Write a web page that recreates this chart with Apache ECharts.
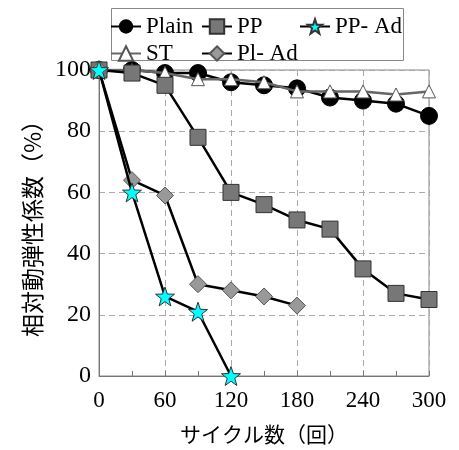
<!DOCTYPE html>
<html><head><meta charset="utf-8">
<script src="https://cdn.jsdelivr.net/npm/echarts@6/dist/echarts.min.js"></script>
<style>html,body{margin:0;padding:0;background:#fff}#c{width:459px;height:450px}</style>
</head><body><div id="c"></div>
<script>
var cycles = [0, 30, 60, 90, 120, 150, 180, 210, 240, 270, 300];
var plain = [100, 100, 99, 99, 96, 95, 94, 91, 90, 89, 85];
var st    = [100, 100, 99, 97, 97, 96, 93, 93, 93, 92, 93];
var pp    = [100, 99, 95, 78, 60, 56, 51, 48, 35, 27, 25];
var plAd  = [100, 64, 59, 30, 28, 26, 23];
var ppAd  = [100, 60, 26, 21, 0];
var xTicks = [0, 60, 120, 180, 240, 300];
var yTicks = [0, 20, 40, 60, 80, 100];
var yTitle = '相対動弾性係数（%）';
var xTitle = 'サイクル数（回）';

function pairs(vals) { return vals.map(function (v, i) { return [cycles[i], v]; }); }

var star = 'path://M0,-10 L2.35,-3.24 L9.51,-3.09 L3.8,1.24 L5.88,8.09 L0,4 L-5.88,8.09 L-3.8,1.24 L-9.51,-3.09 L-2.35,-3.24Z';
var serif = "'Times New Roman', 'Liberation Serif', 'DejaVu Serif', serif";
var cjk = "'Noto Sans CJK JP', sans-serif";

function legendAt(name, left, top) {
  return {
    data: [name], left: left, top: top, padding: 0, itemWidth: 30, itemHeight: 18,
    textStyle: { fontFamily: serif, fontSize: 23, color: '#000' }, selectedMode: false
  };
}

var chart = echarts.init(document.getElementById('c'));
chart.setOption({
  animation: false,
  backgroundColor: '#fff',
  graphic: [{
    type: 'rect', left: 111, top: 8, shape: { width: 292, height: 52 },
    style: { fill: '#fff', stroke: '#888', lineWidth: 1 }, z: 0
  }],
  legend: [
    legendAt('Plain', 110, 15),
    legendAt('PP', 201, 15),
    legendAt('PP- Ad', 299, 15),
    legendAt('ST', 110, 42),
    legendAt('Pl- Ad', 201, 42)
  ],
  grid: { left: 99, right: 30, top: 70, bottom: 70, show: true, borderColor: '#888', borderWidth: 1 },
  xAxis: {
    type: 'value', min: 0, max: 300, interval: 60,
    name: xTitle, nameLocation: 'middle', nameGap: 48,
    nameTextStyle: { fontFamily: cjk, fontSize: 21, color: '#000' },
    axisLine: { lineStyle: { color: '#777', width: 1 } },
    axisTick: { inside: true, length: 5, lineStyle: { color: '#777' } },
    minorTick: { show: true, splitNumber: 2, length: 5, lineStyle: { color: '#777' } },
    axisLabel: { fontFamily: serif, fontSize: 23, color: '#000', margin: 13,
      formatter: function (v) { return xTicks.indexOf(v) >= 0 ? String(v) : ''; } },
    splitLine: { show: true, lineStyle: { color: '#aaa', type: [6, 4], width: 1 } }
  },
  yAxis: {
    type: 'value', min: 0, max: 100, interval: 20,
    name: yTitle, nameLocation: 'middle', nameGap: 50, nameRotate: 90,
    nameTextStyle: { fontFamily: cjk, fontSize: 23, color: '#000' },
    axisLine: { show: true, lineStyle: { color: '#777', width: 1 } },
    axisTick: { show: false },
    axisLabel: { fontFamily: serif, fontSize: 24, color: '#000', margin: 8,
      formatter: function (v) { return yTicks.indexOf(v) >= 0 ? String(v) : ''; } },
    splitLine: { show: true, lineStyle: { color: '#aaa', type: [6, 4], width: 1 } }
  },
  series: [
    { name: 'Plain', type: 'line', data: pairs(plain), symbol: 'circle', symbolSize: 17,
      lineStyle: { color: '#000', width: 2.5 }, itemStyle: { color: '#000', borderColor: '#000' }, z: 2 },
    { name: 'ST', type: 'line', data: pairs(st), symbol: 'triangle', symbolSize: 13,
      lineStyle: { color: '#666', width: 2.5 }, itemStyle: { color: '#fff', borderColor: '#555', borderWidth: 1 }, z: 3 },
    { name: 'PP', type: 'line', data: pairs(pp), symbol: 'rect', symbolSize: 16,
      lineStyle: { color: '#000', width: 2.5 }, itemStyle: { color: '#777', borderColor: '#333', borderWidth: 1 }, z: 4 },
    { name: 'Pl- Ad', type: 'line', data: pairs(plAd), symbol: 'diamond', symbolSize: 17,
      lineStyle: { color: '#000', width: 2.5 }, itemStyle: { color: '#999', borderColor: '#555', borderWidth: 1 }, z: 5 },
    { name: 'PP- Ad', type: 'line', data: pairs(ppAd), symbol: star, symbolSize: 19,
      lineStyle: { color: '#000', width: 2.5 }, itemStyle: { color: '#00ffff', borderColor: '#333', borderWidth: 1 }, z: 6 }
  ]
});
</script></body></html>
